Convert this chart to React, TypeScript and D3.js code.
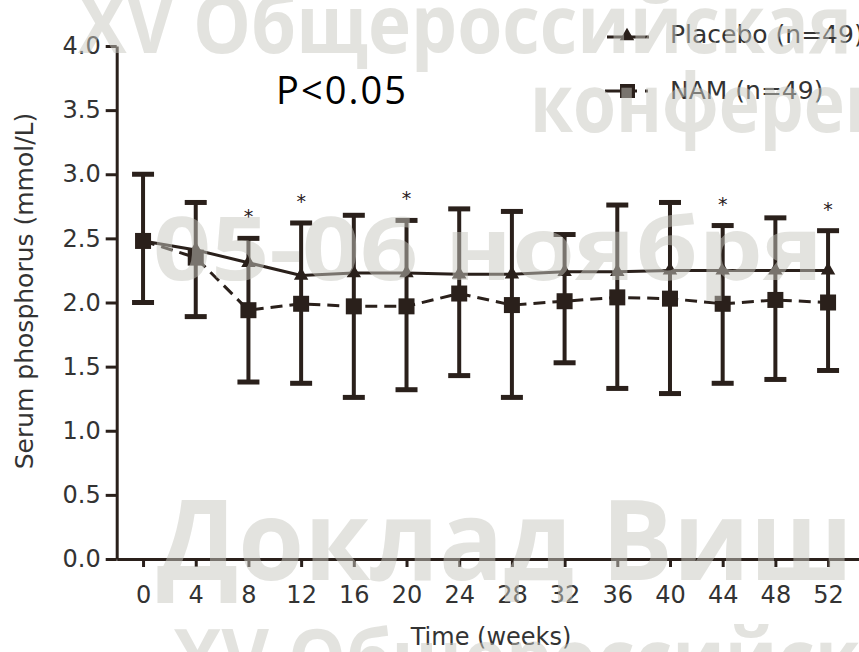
import React, { useEffect, useRef } from 'react';
import * as d3 from 'd3';

// time points (weeks)
const weeks = [0, 4, 8, 12, 16, 20, 24, 28, 32, 36, 40, 44, 48, 52];
// mean serum phosphorus, mmol/L
const placebo = [2.48, 2.41, 2.31, 2.21, 2.23, 2.23, 2.22, 2.22, 2.24, 2.24, 2.25, 2.25, 2.25, 2.25];
const nam = [2.48, 2.35, 1.94, 1.99, 1.97, 1.97, 2.07, 1.98, 2.01, 2.04, 2.03, 1.99, 2.02, 2.0];
// error bar ends
const errLow = [2.0, 1.89, 1.38, 1.37, 1.26, 1.32, 1.43, 1.26, 1.53, 1.33, 1.29, 1.37, 1.4, 1.47];
const errHigh = [3.0, 2.78, 2.5, 2.62, 2.68, 2.64, 2.73, 2.71, 2.53, 2.76, 2.78, 2.6, 2.66, 2.56];
// weeks marked with *
const sigWeeks = [8, 12, 20, 44, 52];
const yTicks = [0, 0.5, 1, 1.5, 2, 2.5, 3, 3.5, 4];

const seriesNames = ['Placebo (n=49)', 'NAM (n=49)'];
const pText = 'P<0.05';

function App() {
    const svgRef = useRef<SVGSVGElement>(null);

    useEffect(() => {
        const width = 859;
        const height = 652;
        const ink = '#2a201b';
        const font = 'DejaVu Sans';

        const svg = d3.select(svgRef.current)
            .attr('width', width)
            .attr('height', height);
        svg.selectAll('*').remove();

        const x = d3.scaleLinear().domain([-2, 54.5]).range([116.7, 861]);
        const y = d3.scaleLinear().domain([0, 4]).range([559, 46]);

        // x axis
        const gx = svg.append('g')
            .attr('transform', `translate(0,${y(0)})`)
            .call(d3.axisBottom(x).tickValues(weeks).tickSize(8).tickSizeOuter(0).tickPadding(19))
            .attr('font-family', font)
            .attr('font-size', 24);
        gx.select('.domain').attr('stroke', ink).attr('stroke-width', 3);
        gx.selectAll('.tick line').attr('stroke', ink).attr('stroke-width', 3);
        gx.selectAll('.tick text').attr('fill', '#333');

        // y axis
        const gy = svg.append('g')
            .attr('transform', `translate(${x(-2)},0)`)
            .call(d3.axisLeft(y).tickValues(yTicks).tickFormat(d3.format('.1f')).tickSize(11).tickSizeOuter(0).tickPadding(5))
            .attr('font-family', font)
            .attr('font-size', 24);
        gy.select('.domain').attr('stroke', ink).attr('stroke-width', 3);
        gy.selectAll('.tick line').attr('stroke', ink).attr('stroke-width', 3);
        gy.selectAll('.tick text').attr('fill', '#333');

        // axis titles
        svg.append('text')
            .attr('x', 491)
            .attr('y', 645)
            .attr('text-anchor', 'middle')
            .attr('font-family', font)
            .attr('font-size', 24)
            .attr('fill', '#333')
            .text('Time (weeks)');

        svg.append('text')
            .attr('transform', 'translate(33,291) rotate(-90)')
            .attr('text-anchor', 'middle')
            .attr('font-family', font)
            .attr('font-size', 25)
            .attr('fill', '#333')
            .text('Serum phosphorus (mmol/L)');

        const rows = weeks.map((w, i) => ({ w, p: placebo[i], n: nam[i], lo: errLow[i], hi: errHigh[i] }));

        // error bars
        const eb = svg.append('g').attr('stroke', ink);
        eb.selectAll('line.v').data(rows).enter().append('line')
            .attr('x1', d => x(d.w)).attr('x2', d => x(d.w))
            .attr('y1', d => y(d.lo)).attr('y2', d => y(d.hi))
            .attr('stroke-width', 4);
        eb.selectAll('line.hi').data(rows).enter().append('line')
            .attr('x1', d => x(d.w) - 11).attr('x2', d => x(d.w) + 11)
            .attr('y1', d => y(d.hi)).attr('y2', d => y(d.hi))
            .attr('stroke-width', 5);
        eb.selectAll('line.lo').data(rows).enter().append('line')
            .attr('x1', d => x(d.w) - 11).attr('x2', d => x(d.w) + 11)
            .attr('y1', d => y(d.lo)).attr('y2', d => y(d.lo))
            .attr('stroke-width', 5);

        // lines
        const namLine = d3.line<any>().x(d => x(d.w)).y(d => y(d.n));
        const plLine = d3.line<any>().x(d => x(d.w)).y(d => y(d.p));
        svg.append('path').datum(rows)
            .attr('d', namLine)
            .attr('fill', 'none')
            .attr('stroke', ink)
            .attr('stroke-width', 3)
            .attr('stroke-dasharray', '12,7');
        svg.append('path').datum(rows)
            .attr('d', plLine)
            .attr('fill', 'none')
            .attr('stroke', ink)
            .attr('stroke-width', 3);

        // markers
        const tri = d3.symbol().type(d3.symbolTriangle).size(90);
        svg.selectAll('path.tri').data(rows).enter().append('path')
            .attr('d', tri)
            .attr('transform', d => `translate(${x(d.w)},${y(d.p)})`)
            .attr('fill', ink);
        svg.selectAll('rect.sq').data(rows).enter().append('rect')
            .attr('x', d => x(d.w) - 8)
            .attr('y', d => y(d.n) - 8)
            .attr('width', 16)
            .attr('height', 16)
            .attr('fill', ink);

        // significance stars
        svg.selectAll('text.star').data(rows.filter(d => sigWeeks.includes(d.w))).enter().append('text')
            .attr('x', d => x(d.w))
            .attr('y', d => y(d.hi) - 15)
            .attr('text-anchor', 'middle')
            .attr('font-family', font)
            .attr('font-size', 19)
            .attr('fill', ink)
            .text('*');

        // legend
        const lg = svg.append('g');
        lg.append('line').attr('x1', 607).attr('x2', 649).attr('y1', 37).attr('y2', 37)
            .attr('stroke', ink).attr('stroke-width', 3);
        lg.append('path').attr('d', tri).attr('transform', 'translate(627,36)').attr('fill', ink);
        lg.append('text').attr('x', 670).attr('y', 43).text(seriesNames[0]);
        lg.append('line').attr('x1', 605).attr('x2', 650).attr('y1', 91).attr('y2', 91)
            .attr('stroke', ink).attr('stroke-width', 3).attr('stroke-dasharray', '32,8,3,8');
        lg.append('rect').attr('x', 620).attr('y', 84).attr('width', 15).attr('height', 14).attr('fill', ink);
        lg.append('text').attr('x', 670).attr('y', 99).text(seriesNames[1]);
        lg.selectAll('text')
            .attr('font-family', font)
            .attr('font-size', 25)
            .attr('fill', '#333');

        // P value
        svg.append('text')
            .attr('x', 276)
            .attr('y', 104)
            .attr('font-family', 'Open Sans')
            .attr('font-size', 38)
            .attr('textLength', 130)
            .attr('fill', '#000')
            .text(pText);

        // watermark on top
        const wm = svg.append('g')
            .attr('font-family', 'Open Sans')
            .attr('font-weight', 'bold')
            .attr('fill', 'rgb(200,200,192)')
            .attr('opacity', 0.5)
            .style('pointer-events', 'none');
        wm.append('text').attr('x', 78).attr('y', 53).attr('font-size', 80)
            .attr('textLength', 774).attr('lengthAdjust', 'spacingAndGlyphs').text('XV Общероссийская');
        wm.append('text').attr('x', 530).attr('y', 132).attr('font-size', 80)
            .attr('textLength', 500).attr('lengthAdjust', 'spacingAndGlyphs').text('конференция');
        wm.append('text').attr('x', 153).attr('y', 280).attr('font-size', 88)
            .attr('textLength', 670).attr('lengthAdjust', 'spacingAndGlyphs').text('05-06 ноября');
        wm.append('text').attr('x', 157).attr('y', 580).attr('font-size', 112)
            .attr('textLength', 696).attr('lengthAdjust', 'spacingAndGlyphs').text('Доклад Виш');
        wm.append('text').attr('x', 173).attr('y', 687).attr('font-size', 80)
            .attr('textLength', 774).attr('lengthAdjust', 'spacingAndGlyphs').text('XV Общероссийская');
    }, []);

    return (
        <svg ref={svgRef} style={{ position: 'absolute', left: 0, top: 0, background: '#fff' }}></svg>
    );
}

export default App;
